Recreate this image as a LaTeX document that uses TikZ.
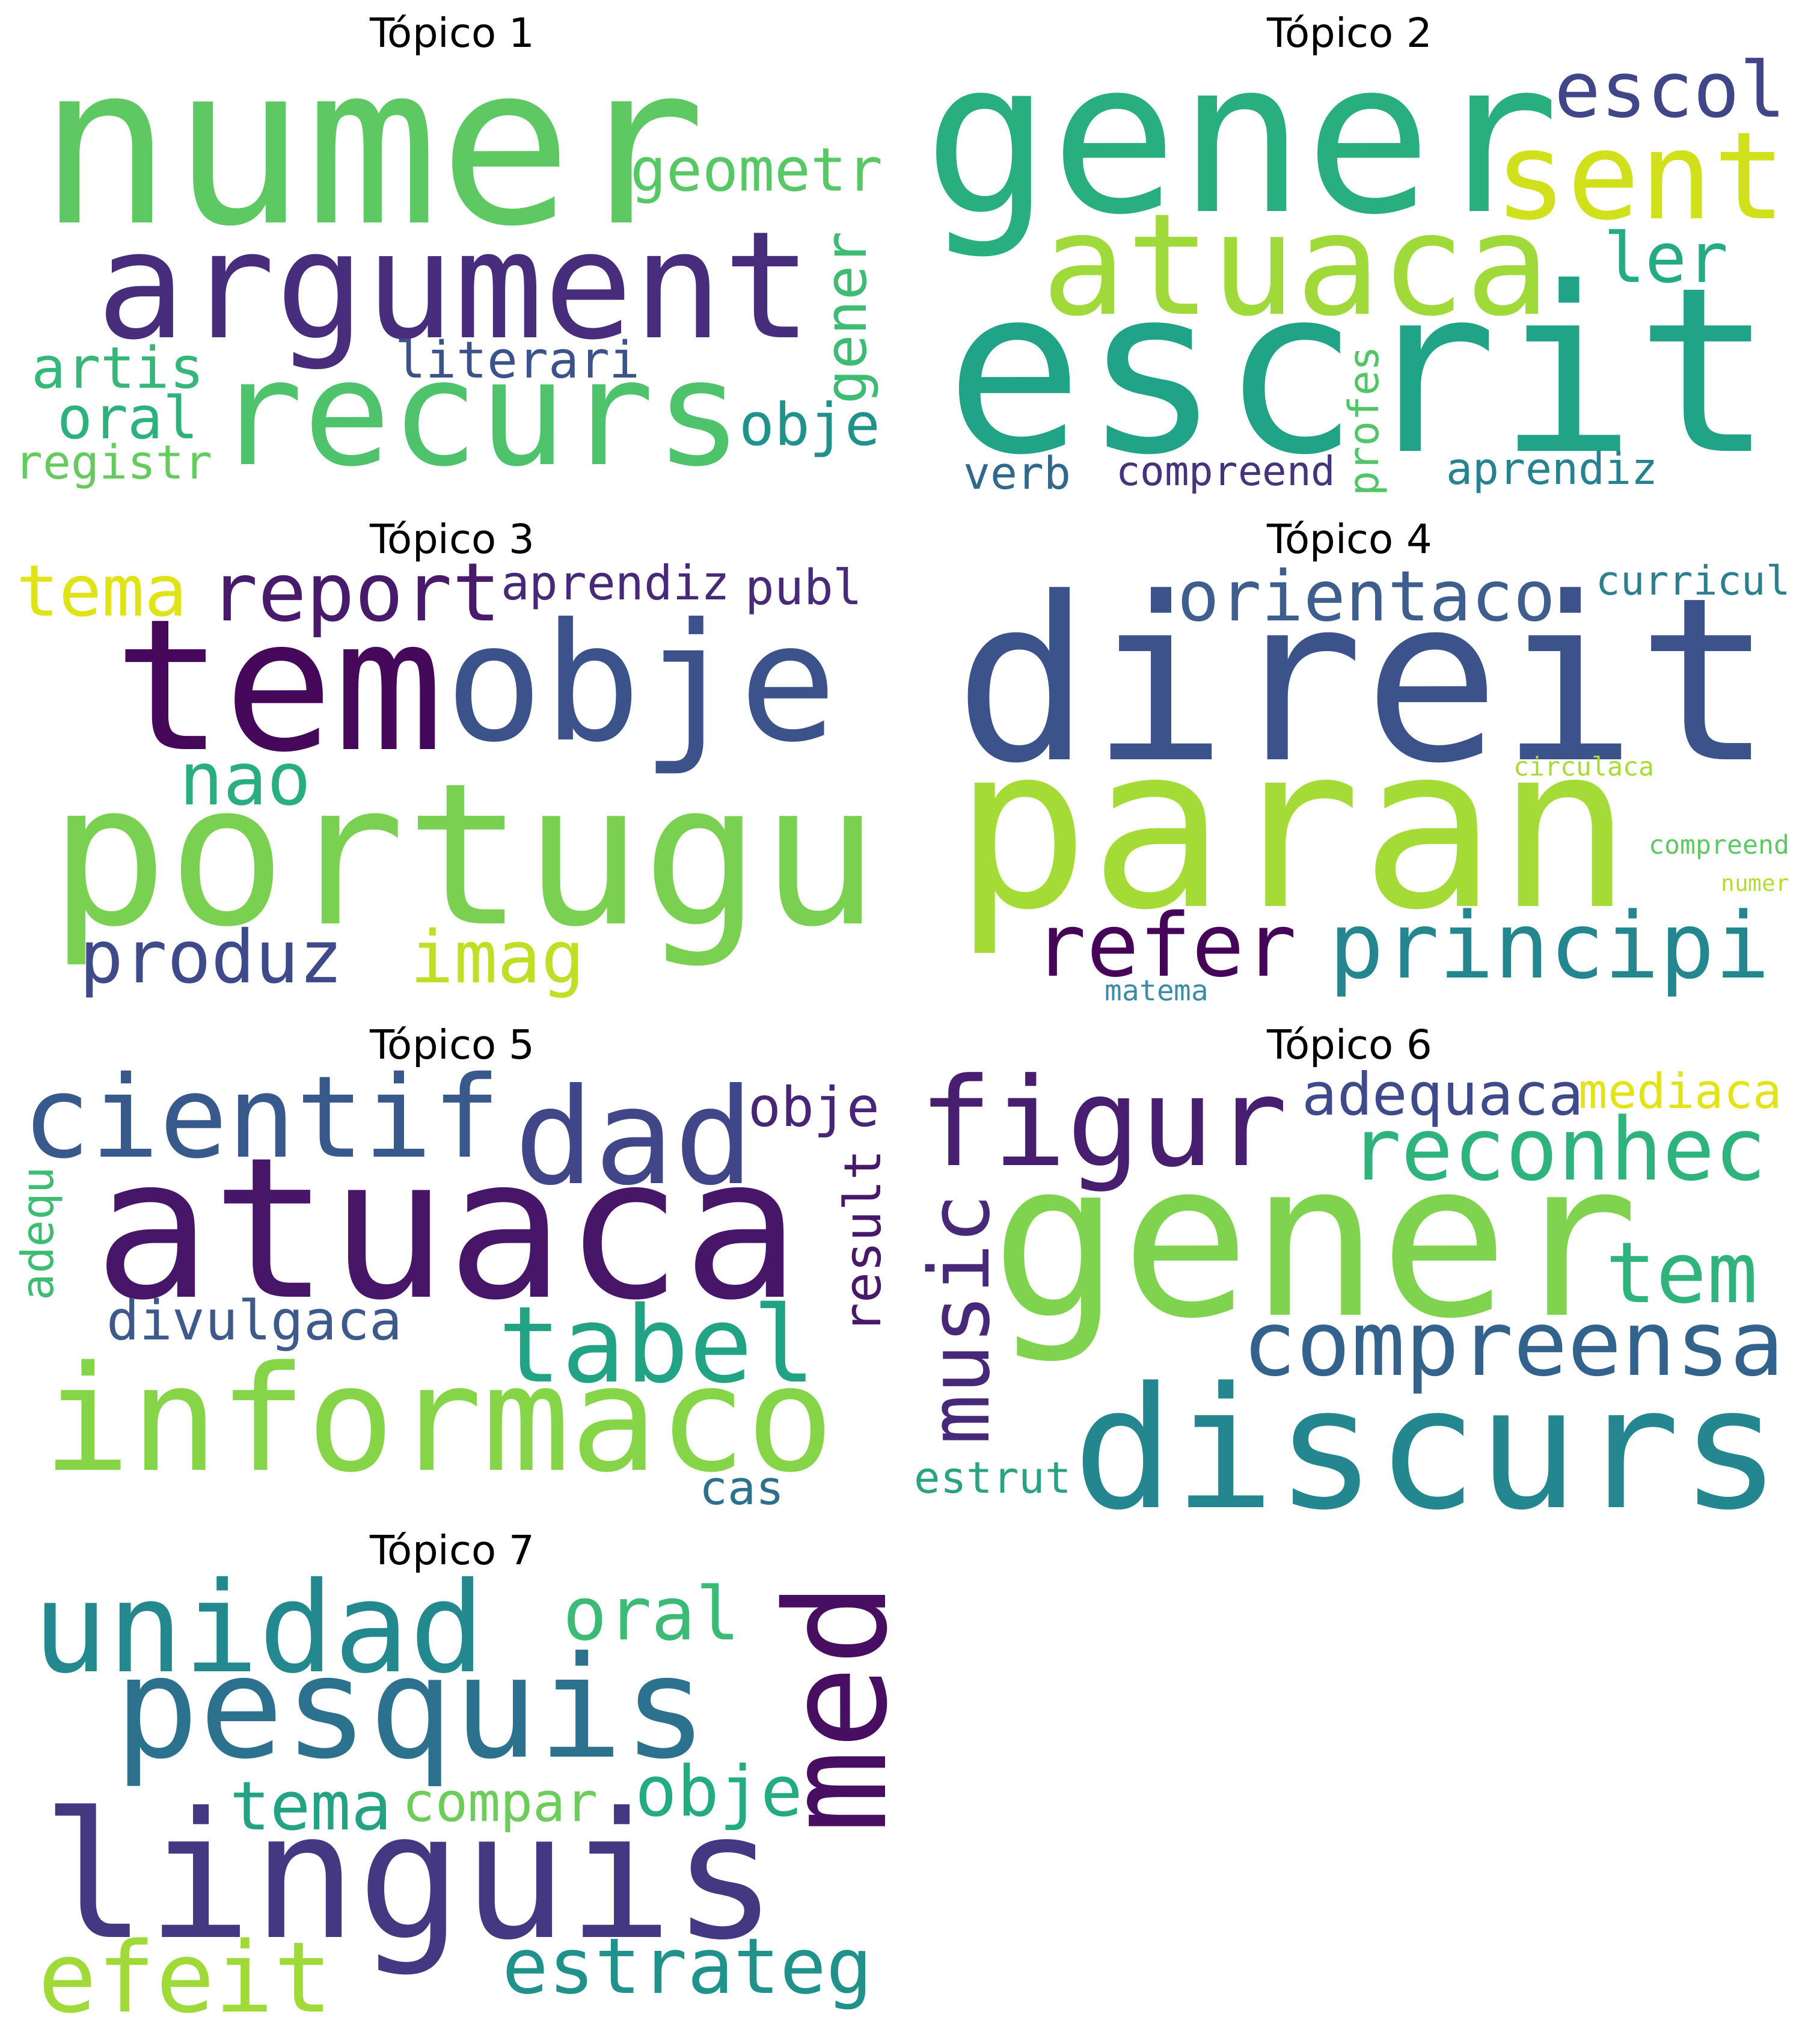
\documentclass[tikz,border=0pt]{standalone}
\usepackage{fontspec}
\newfontfamily\wcfont{DejaVu Sans Mono}
\newfontfamily\ttlfont{DejaVu Sans}
\newcommand\wcf[1]{\wcfont\fontsize{#1}{#1}\selectfont}
\definecolor{aNumer}{HTML}{5EC962}\definecolor{aArgument}{HTML}{472D7B}\definecolor{aRecurs}{HTML}{4EC36B}
\definecolor{aGeometr}{HTML}{58C765}\definecolor{aGener}{HTML}{3FBC73}\definecolor{aLiterari}{HTML}{3B528B}
\definecolor{aArtis}{HTML}{35B779}\definecolor{aOral}{HTML}{2DB27D}\definecolor{aRegistr}{HTML}{65CB5E}
\definecolor{aObje}{HTML}{21918C}
\definecolor{bGener}{HTML}{29AF7F}\definecolor{bEscol}{HTML}{404688}\definecolor{bSent}{HTML}{D0E11C}
\definecolor{bAtuaca}{HTML}{9FDA3A}\definecolor{bEscrit}{HTML}{20A386}\definecolor{bLer}{HTML}{25AB82}
\definecolor{bProfes}{HTML}{52C569}\definecolor{bVerb}{HTML}{31688E}\definecolor{bCompreend}{HTML}{46337E}
\definecolor{bAprendiz}{HTML}{26828E}
\definecolor{cTema}{HTML}{DFE318}\definecolor{cReport}{HTML}{481A6C}\definecolor{cAprendiz}{HTML}{482878}
\definecolor{cPubl}{HTML}{472A7A}\definecolor{cTem}{HTML}{45085B}\definecolor{cObje}{HTML}{3B528B}
\definecolor{cNao}{HTML}{28AE80}\definecolor{cPortugu}{HTML}{7AD151}\definecolor{cProduz}{HTML}{3E4A89}
\definecolor{cImag}{HTML}{BDDF26}
\definecolor{dDireit}{HTML}{3B528B}\definecolor{dOrientaco}{HTML}{3E5F8D}\definecolor{dCurricul}{HTML}{2C7F8E}
\definecolor{dCirculaca}{HTML}{A8DB34}\definecolor{dParan}{HTML}{A5DB36}\definecolor{dCompreend}{HTML}{5EC962}
\definecolor{dNumer}{HTML}{B5DE2B}\definecolor{dRefer}{HTML}{450457}\definecolor{dPrincipi}{HTML}{24868E}
\definecolor{dMatema}{HTML}{3E8BA7}
\definecolor{eCientif}{HTML}{38598C}\definecolor{eDad}{HTML}{404688}\definecolor{eObje}{HTML}{482677}
\definecolor{eAdequ}{HTML}{3FBC73}\definecolor{eResult}{HTML}{48186A}\definecolor{eAtuaca}{HTML}{481668}
\definecolor{eDivulgaca}{HTML}{3E5A8A}\definecolor{eTabel}{HTML}{22A385}\definecolor{eInformaco}{HTML}{86D549}
\definecolor{eCas}{HTML}{2D708E}
\definecolor{fFigur}{HTML}{481F70}\definecolor{fAdequaca}{HTML}{3F4A8A}\definecolor{fMediaca}{HTML}{E2E418}
\definecolor{fReconhec}{HTML}{2EB37C}\definecolor{fMusic}{HTML}{482878}\definecolor{fGener}{HTML}{7FD34E}
\definecolor{fTem}{HTML}{2FB47C}\definecolor{fCompreensa}{HTML}{33638D}\definecolor{fDiscurs}{HTML}{24868E}
\definecolor{fEstrut}{HTML}{2AA383}
\definecolor{gUnidad}{HTML}{23898E}\definecolor{gOral}{HTML}{3BBB75}\definecolor{gMed}{HTML}{470E61}
\definecolor{gPesquis}{HTML}{2C728E}\definecolor{gTema}{HTML}{23A383}\definecolor{gCompar}{HTML}{6CCD5A}
\definecolor{gObje}{HTML}{25AB82}\definecolor{gLinguis}{HTML}{453882}\definecolor{gEfeit}{HTML}{A0DA39}
\definecolor{gEstrateg}{HTML}{21918C}
\begin{document}
\begin{tikzpicture}[x=1pt,y=-1pt,
  w/.style={anchor=base,inner sep=0pt,outer sep=0pt},
  wr/.style={w,rotate=90},
  ttl/.style={anchor=base,inner sep=0pt,font=\ttlfont\fontsize{31}{31}\selectfont,text=black}]
\useasboundingbox[fill=white] (0,0) rectangle (1384,1568);
% titles
\node[ttl] (title1) at (347,36.3) {Tópico 1};
\node[ttl] (title2) at (1035.3,36.3) {Tópico 2};
\node[ttl] (title3) at (347,424.3) {Tópico 3};
\node[ttl] (title4) at (1035.3,424.3) {Tópico 4};
\node[ttl] (title5) at (347,812.3) {Tópico 5};
\node[ttl] (title6) at (1035.3,812.3) {Tópico 6};
\node[ttl] (title7) at (347,1200.3) {Tópico 7};
% topic 1
\node[w,text=aNumer,font={\wcf{170}}] (aNumer) at (285.8,170.8) {numer};
\node[w,text=aArgument,font={\wcf{114}}] (aArgument) at (348.6,258.8) {argument};
\node[w,text=aRecurs,font={\wcf{112}}] (aRecurs) at (367.4,356.3) {recurs};
\node[w,text=aGeometr,font={\wcf{46}}] (aGeometr) at (580.3,146.3) {geometr};
\node[wr,text=aGener,font={\wcf{44}}] (aGener) at (664.2,243.8) {gener};
\node[w,text=aLiterari,font={\wcf{39}}] (aLiterari) at (397.2,290) {literari};
\node[w,text=aArtis,font={\wcf{44}}] (aArtis) at (90.5,297.5) {artis};
\node[w,text=aOral,font={\wcf{45}}] (aOral) at (98.2,336.3) {oral};
\node[w,text=aRegistr,font={\wcf{36}}] (aRegistr) at (87.2,367.5) {registr};
\node[w,text=aObje,font={\wcf{45}}] (aObje) at (621.1,341.3) {obje};
% topic 2
\node[w,text=bGener,font={\wcf{162}}] (bGener) at (952.4,162) {gener};
\node[w,text=bEscol,font={\wcf{59}}] (bEscol) at (1281.2,89.5) {escol};
\node[w,text=bSent,font={\wcf{93}}] (bSent) at (1258,167.5) {sent};
\node[w,text=bAtuaca,font={\wcf{108}}] (bAtuaca) at (994.2,240.8) {atuaca};
\node[w,text=bEscrit,font={\wcf{176}}] (bEscrit) at (1042.9,346.3) {escrit};
\node[w,text=bLer,font={\wcf{53}}] (bLer) at (1277.9,216.3) {ler};
\node[wr,text=bProfes,font={\wcf{32}}] (bProfes) at (1057.4,323.1) {profes};
\node[w,text=bVerb,font={\wcf{34.4}}] (bVerb) at (780.3,375) {verb};
\node[w,text=bCompreend,font={\wcf{31.1}}] (bCompreend) at (940.2,372.5) {compreend};
\node[w,text=bAprendiz,font={\wcf{33.7}}] (bAprendiz) at (1190.7,371.3) {aprendiz};
% topic 3
\node[w,text=cTema,font={\wcf{54.5}}] (cTema) at (78.3,472.5) {tema};
\node[w,text=cReport,font={\wcf{62}}] (cReport) at (272.5,476.3) {report};
\node[w,text=cAprendiz,font={\wcf{36.5}}] (cAprendiz) at (472.2,460) {aprendiz};
\node[w,text=cPubl,font={\wcf{37.3}}] (cPubl) at (616.7,463.8) {publ};
\node[w,text=cTem,font={\wcf{140}}] (cTem) at (214,575) {tem};
\node[w,text=cObje,font={\wcf{125}}] (cObje) at (492,567.5) {obje};
\node[w,text=cNao,font={\wcf{56}}] (cNao) at (188.2,617.5) {nao};
\node[w,text=cPortugu,font={\wcf{151}}] (cPortugu) at (356.4,708.8) {portugu};
\node[w,text=cProduz,font={\wcf{56}}] (cProduz) at (162.2,753.8) {produz};
\node[w,text=cImag,font={\wcf{55.5}}] (cImag) at (381.7,753.8) {imag};
% topic 4
\node[w,text=dDireit,font={\wcf{174}}] (dDireit) at (1046.2,582.5) {direit};
\node[w,text=dOrientaco,font={\wcf{53.5}}] (dOrientaco) at (1048.3,476.3) {orientaco};
\node[w,text=dCurricul,font={\wcf{30.9}}] (dCurricul) at (1298.8,456.3) {curricul};
\node[w,text=dCirculaca,font={\wcf{19.9}}] (dCirculaca) at (1215,595) {circulaca};
\node[w,text=dParan,font={\wcf{173}}] (dParan) at (992,695) {paran};
\node[w,text=dCompreend,font={\wcf{19.9}}] (dCompreend) at (1318.7,655) {compreend};
\node[w,text=dNumer,font={\wcf{17.4}}] (dNumer) at (1346.3,683.8) {numer};
\node[w,text=dRefer,font={\wcf{67}}] (dRefer) at (893.9,748.8) {refer};
\node[w,text=dPrincipi,font={\wcf{70.2}}] (dPrincipi) at (1188.5,750) {principi};
\node[w,text=dMatema,font={\wcf{22}}] (dMatema) at (887.3,767.5) {matema};
% topic 5
\node[w,text=eCientif,font={\wcf{87}}] (eCientif) at (200.8,887.6) {cientif};
\node[w,text=eDad,font={\wcf{102}}] (eDad) at (486.5,907.6) {dad};
\node[w,text=eObje,font={\wcf{42}}] (eObje) at (624.4,863.9) {obje};
\node[wr,text=eAdequ,font={\wcf{34}}] (eAdequ) at (41,946.4) {adequ};
\node[wr,text=eResult,font={\wcf{39}}] (eResult) at (675.2,952.6) {result};
\node[w,text=eAtuaca,font={\wcf{150}}] (eAtuaca) at (343.1,995.1) {atuaca};
\node[w,text=eDivulgaca,font={\wcf{41.9}}] (eDivulgaca) at (195.3,1027.6) {divulgaca};
\node[w,text=eTabel,font={\wcf{81}}] (eTabel) at (504.2,1060.1) {tabel};
\node[w,text=eInformaco,font={\wcf{112}}] (eInformaco) at (336.5,1127.6) {informaco};
\node[w,text=eCas,font={\wcf{36}}] (eCas) at (569.3,1153.9) {cas};
% topic 6
\node[w,text=fFigur,font={\wcf{94}}] (fFigur) at (846.5,893.9) {figur};
\node[w,text=fAdequaca,font={\wcf{44.9}}] (fAdequaca) at (1106.8,855.1) {adequaca};
\node[w,text=fMediaca,font={\wcf{37}}] (fMediaca) at (1288.9,850.1) {mediaca};
\node[w,text=fReconhec,font={\wcf{66.5}}] (fReconhec) at (1195.1,905.1) {reconhec};
\node[wr,text=fMusic,font={\wcf{64}}] (fMusic) at (758.2,1012) {music};
\node[w,text=fGener,font={\wcf{165}}] (fGener) at (1008.7,1008.9) {gener};
\node[w,text=fTem,font={\wcf{64.7}}] (fTem) at (1290,998.9) {tem};
\node[w,text=fCompreensa,font={\wcf{69}}] (fCompreensa) at (1160.9,1055.1) {compreensa};
\node[w,text=fDiscurs,font={\wcf{129}}] (fDiscurs) at (1094.7,1156.4) {discurs};
\node[w,text=fEstrut,font={\wcf{33.3}}] (fEstrut) at (761.5,1145.1) {estrut};
% topic 7
\node[w,text=gUnidad,font={\wcf{96}}] (gUnidad) at (198.6,1282.2) {unidad};
\node[w,text=gOral,font={\wcf{56.4}}] (gOral) at (499.8,1257.9) {oral};
\node[wr,text=gMed,font={\wcf{107}}] (gMed) at (679,1310.2) {med};
\node[w,text=gPesquis,font={\wcf{108}}] (gPesquis) at (315.6,1347.7) {pesquis};
\node[w,text=gTema,font={\wcf{51.6}}] (gTema) at (238.3,1403.4) {tema};
\node[w,text=gCompar,font={\wcf{41.5}}] (gCompar) at (383.9,1396.9) {compar};
\node[w,text=gObje,font={\wcf{53.5}}] (gObje) at (551.6,1393.1) {obje};
\node[w,text=gLinguis,font={\wcf{134}}] (gLinguis) at (314.4,1486.3) {linguis};
\node[w,text=gEfeit,font={\wcf{75}}] (gEfeit) at (142.3,1543.2) {efeit};
\node[w,text=gEstrateg,font={\wcf{59}}] (gEstrateg) at (527.4,1529) {estrateg};
\end{tikzpicture}
\end{document}
